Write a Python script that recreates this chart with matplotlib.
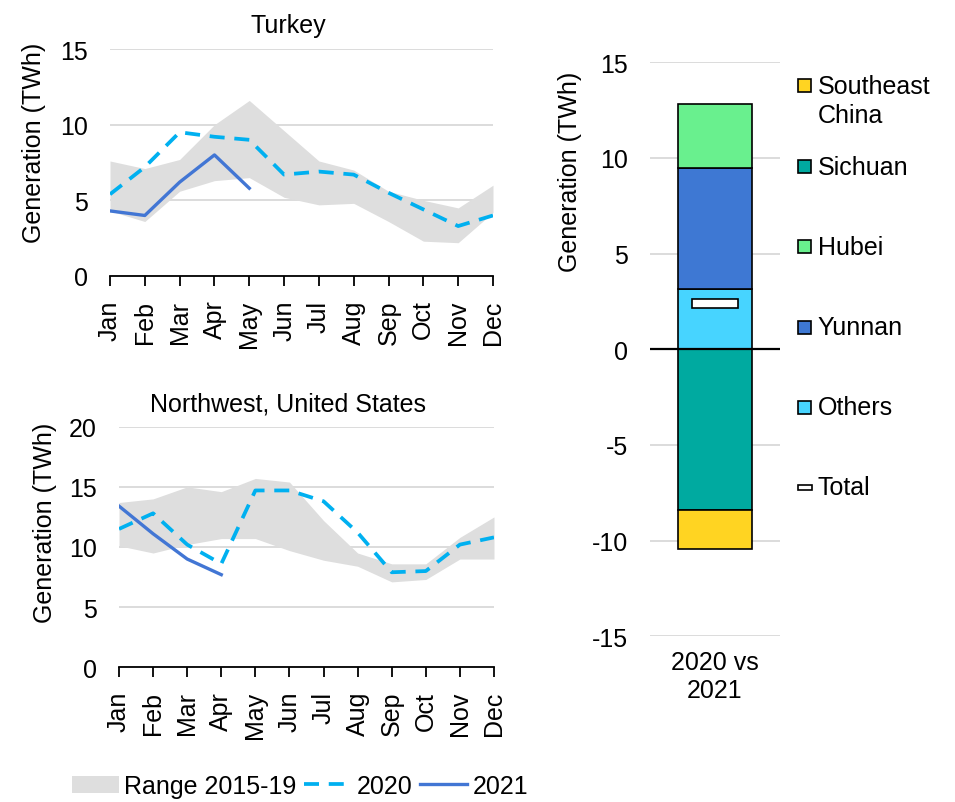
import matplotlib
matplotlib.use("Agg")
import matplotlib.pyplot as plt
from matplotlib.patches import Patch, Rectangle
from matplotlib.lines import Line2D
import numpy as np

plt.rcParams['font.family'] = ['Liberation Sans', 'DejaVu Sans']
plt.rcParams['axes.unicode_minus'] = False

# ---------------- data ----------------
months = ['Jan', 'Feb', 'Mar', 'Apr', 'May', 'Jun', 'Jul', 'Aug', 'Sep', 'Oct', 'Nov', 'Dec']

turkey_range_low = [4.3, 3.6, 5.6, 6.3, 6.5, 5.2, 4.7, 4.8, 3.6, 2.3, 2.2, 4.2]
turkey_range_high = [7.6, 7.1, 7.7, 10.0, 11.6, 9.6, 7.6, 7.0, 5.6, 5.0, 4.5, 6.0]
turkey_2020 = [5.4, 7.2, 9.5, 9.2, 9.0, 6.7, 6.9, 6.7, 5.5, 4.4, 3.3, 4.0]
turkey_2021 = [4.3, 4.0, 6.2, 8.0, 5.8]

nw_range_low = [10.1, 9.5, 10.2, 10.7, 10.7, 9.7, 8.9, 8.4, 7.1, 7.3, 9.0, 9.0]
nw_range_high = [13.7, 14.0, 15.0, 14.6, 15.7, 15.4, 12.2, 9.5, 8.6, 8.6, 10.8, 12.5]
nw_2020 = [11.5, 12.8, 10.2, 8.6, 14.7, 14.7, 13.8, 11.2, 7.9, 8.0, 10.2, 10.8]
nw_2021 = [13.4, 11.1, 9.0, 7.7]

regions = ['Southeast China', 'Sichuan', 'Hubei', 'Yunnan', 'Others']
region_change = [-2.05, -8.38, 3.33, 6.37, 3.13]
stack_order = ['Others', 'Yunnan', 'Hubei', 'Sichuan', 'Southeast China']
bar_category = ['2020 vs\n2021']
legend_labels = ['Southeast\nChina', 'Sichuan', 'Hubei', 'Yunnan', 'Others', 'Total']

# ---------------- styles ----------------
region_colors = {'Southeast China': '#FFD422', 'Sichuan': '#00AAA0', 'Hubei': '#69F08E',
                 'Yunnan': '#3E78D3', 'Others': '#47D4FF'}
c_range = '#DEDEDE'
c_2020 = '#00B0F0'
c_2021 = '#4276D4'
c_grid = '#D9D9D9'
FS = 18

W, H = 955, 803
fig = plt.figure(figsize=(W / 100, H / 100), dpi=100)


def ax_px(l, t, r, b):
    return fig.add_axes([l / W, 1 - b / H, (r - l) / W, (b - t) / H])


def line_panel(ax, lo, hi, y20, y21, ymax, title, title_x, ylab_xy):
    x = np.arange(len(months))
    ax.fill_between(x, lo, hi, color=c_range, lw=0, zorder=1)
    ax.plot(x, y20, color=c_2020, lw=2.7, dashes=(4.0, 2.6), zorder=3)
    ax.plot(x[:len(y21)], y21, color=c_2021, lw=2.4, zorder=4)
    ax.set_xlim(0, len(months) - 1)
    ax.set_ylim(0, ymax)
    ax.set_yticks(np.arange(0, ymax + 1, 5))
    ax.set_xticks(x)
    ax.set_xticklabels(months, rotation=90, fontsize=FS)
    ax.tick_params(axis='y', length=0, pad=16, labelsize=FS)
    ax.tick_params(axis='x', length=7, width=1.3, pad=10, direction='out')
    for s in ['top', 'right', 'left']:
        ax.spines[s].set_visible(False)
    ax.spines['bottom'].set_linewidth(1.3)
    ax.yaxis.grid(True, color=c_grid, lw=1.3, zorder=0)
    ax.set_axisbelow(True)
    ax.set_ylabel('Generation (TWh)', fontsize=FS)
    ax.yaxis.set_label_coords(*ylab_xy)
    ax.set_title(title, fontsize=FS, x=title_x, pad=12)


ax1 = ax_px(110, 50, 493, 277)
line_panel(ax1, turkey_range_low, turkey_range_high, turkey_2020, turkey_2021, 15,
           'Turkey', 0.465, (-0.167, 0.5925))
ax2 = ax_px(119, 427.7, 494, 668.3)
line_panel(ax2, nw_range_low, nw_range_high, nw_2020, nw_2021, 20,
           'Northwest, United States', 0.45, (-0.165, 0.606))

# bottom legend
handles = [Patch(facecolor=c_range, edgecolor='none'),
           Line2D([], [], color=c_2020, lw=2.7, dashes=(4.0, 2.6)),
           Line2D([], [], color=c_2021, lw=2.4)]
fig.legend(handles, ['Range 2015-19', '2020', '2021'], ncol=3, frameon=False,
           fontsize=FS, loc='center', bbox_to_anchor=(300 / W, 1 - 787 / H),
           handlelength=1.9, handletextpad=0.2, columnspacing=0.3, handleheight=0.7)

# ---------------- right stacked bar ----------------
ax3 = ax_px(650, 63.3, 780, 637.2)
val = dict(zip(regions, region_change))
pos, neg = 0.0, 0.0
bw = 0.57
for r in stack_order:
    v = val[r]
    if v >= 0:
        ax3.bar(0, v, bottom=pos, width=bw, color=region_colors[r], edgecolor='black', lw=1.2, zorder=3)
        pos += v
    else:
        ax3.bar(0, v, bottom=neg, width=bw, color=region_colors[r], edgecolor='black', lw=1.2, zorder=3)
        neg += v
total = sum(region_change)
th = 0.47
ax3.bar(0, th, bottom=total - th / 2, width=0.36, color='white', edgecolor='black', lw=1.2, zorder=4)
ax3.axhline(0, color='black', lw=1.6, zorder=5)
ax3.set_xlim(-0.5, 0.5)
ax3.set_ylim(-15, 15)
ax3.set_yticks(np.arange(-15, 16, 5))
ax3.set_xticks([0])
ax3.set_xticklabels(bar_category, fontsize=FS)
ax3.tick_params(axis='x', length=0, pad=10)
ax3.tick_params(axis='y', length=0, pad=16, labelsize=FS)
for s in ax3.spines.values():
    s.set_visible(False)
ax3.yaxis.grid(True, color=c_grid, lw=1.3, zorder=0)
ax3.set_axisbelow(True)
ax3.set_ylabel('Generation (TWh)', fontsize=FS)
ax3.yaxis.set_label_coords(-0.523, 0.811)

# right-hand legend (manual placement as in the original)
leg_y = [86.7, 167.7, 247.7, 328.3, 408.3, 488]
for i, lab in enumerate(legend_labels):
    y = leg_y[i]
    if lab == 'Total':
        fig.add_artist(Rectangle((797.5 / W, 1 - (y + 2.5) / H), 14.5 / W, 5 / H,
                                 facecolor='white', edgecolor='black', lw=1.2,
                                 transform=fig.transFigure))
    else:
        col = region_colors[regions[i]]
        fig.add_artist(Rectangle((798 / W, 1 - (y + 6.6) / H), 13.3 / W, 13.3 / H,
                                 facecolor=col, edgecolor='black', lw=1.2,
                                 transform=fig.transFigure))
    nlines = lab.count('\n')
    fig.text(817.7 / W, 1 - (y + nlines * 15) / H, lab, fontsize=FS, va='center',
             ha='left', linespacing=1.25)

fig.savefig('out.png', dpi=100)
